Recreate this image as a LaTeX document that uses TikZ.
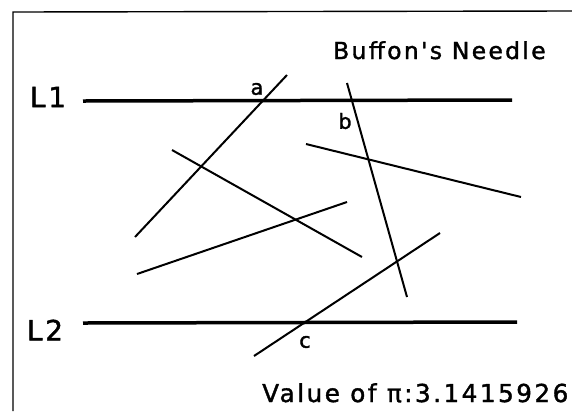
\documentclass[tikz,border=0pt]{standalone}
\usepackage{fontspec}
\setmainfont{DejaVu Sans}
\newfontfamily\spaced[LetterSpace=10,FakeBold=1.5]{DejaVu Sans}
\begin{document}
\begin{tikzpicture}[x=1bp,y=-1bp,
  frameline/.style={line width=1.4bp},
  parline/.style={line width=3.5bp},
  needle/.style={line width=2bp},
  lbl/.style={inner sep=0pt, font=\spaced\fontsize{21}{21}\selectfont},
  parlbl/.style={inner sep=0pt, font=\spaced\fontsize{28}{28}\selectfont},
  title/.style={inner sep=0pt, anchor=base west, font=\spaced\fontsize{23.5}{23.5}\selectfont}]
\useasboundingbox[fill=white] (0,0) rectangle (572,411);
% frame
\coordinate (fbl) at (13,411);
\coordinate (ftl) at (13,12);
\coordinate (ftr) at (572,11);
\draw[frameline] (fbl) -- (ftl) -- (ftr);
% parallel lines
\coordinate (l1a) at (83,101);
\coordinate (l1b) at (512,100);
\coordinate (l2a) at (83,323);
\coordinate (l2b) at (517,322);
\draw[parline] (l1a) -- (l1b);
\draw[parline] (l2a) -- (l2b);
\node[parlbl] (L1) at (48,97) {L1};
\node[parlbl] (L2) at (45,330) {L2};
% needles
\coordinate (na1) at (135,237); \coordinate (na2) at (287,75);
\coordinate (n21) at (172,150); \coordinate (n22) at (362,257);
\coordinate (n31) at (137,274); \coordinate (n32) at (347,202);
\coordinate (nb1) at (347,83);  \coordinate (nb2) at (407,297);
\coordinate (n51) at (306,144); \coordinate (n52) at (521,197);
\coordinate (nc1) at (254,356); \coordinate (nc2) at (440,233);
\draw[needle] (na1) -- (na2);
\draw[needle] (n21) -- (n22);
\draw[needle] (n31) -- (n32);
\draw[needle] (nb1) -- (nb2);
\draw[needle] (n51) -- (n52);
\draw[needle] (nc1) -- (nc2);
% labels
\node[lbl] (la) at (257,89) {a};
\node[lbl] (lb) at (345,121) {b};
\node[lbl] (lc) at (305,342) {c};
\node[title] (ttl) at (333,59) {Buffon's Needle};
\node[title, font=\spaced\fontsize{24.8}{24.8}\selectfont] (val) at (262,402) {Value of π:3.1415926};
\end{tikzpicture}
\end{document}
